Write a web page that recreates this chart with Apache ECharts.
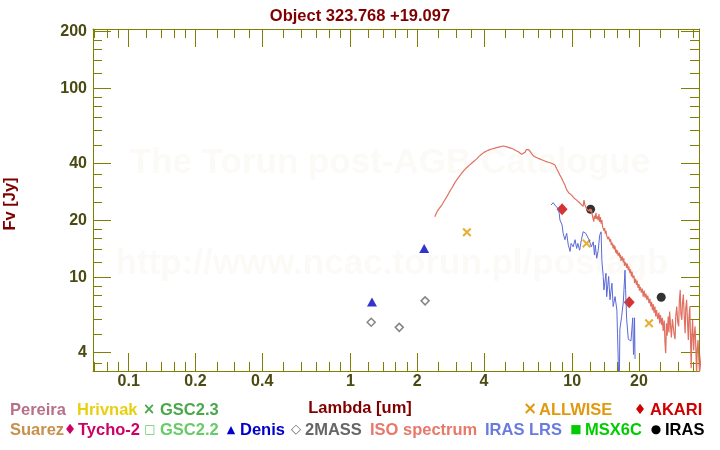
<!DOCTYPE html>
<html><head><meta charset="utf-8">
<script src="https://cdn.jsdelivr.net/npm/echarts@6/dist/echarts.min.js"></script>
<style>html,body{margin:0;padding:0;background:#fff}#c{width:720px;height:450px}</style>
</head><body><div id="c"></div>
<script>
const chartTitle = 'Object 323.768 +19.097';
const xName = 'Lambda [um]';
const yName = 'Fv [Jy]';
const xRange = [0.069, 37.3];
const yRange = [3.19, 206];
const xMajorTicks = [0.1, 0.2, 0.4, 1, 2, 4, 10, 20];
const xTickLabels = ['0.1', '0.2', '0.4', '1', '2', '4', '10', '20'];
const xMinorTicks = [0.07,0.08,0.09,0.12,0.14,0.16,0.18,0.25,0.3,0.35,0.5,0.6,0.7,0.8,0.9,1.2,1.4,1.6,1.8,2.5,3,3.5,5,6,7,8,9,12,14,16,18,25,30,35];
const yMajorTicks = [4, 10, 20, 40, 100, 200];
const yTickLabels = ['4', '10', '20', '40', '100', '200'];
const yMinorTicks = [3.5,5,6,7,8,9,12,14,16,18,25,30,35,50,60,70,80,90,120,140,160,180];

// ISO spectrum
const isoWave = [2.40,2.43,2.46,2.52,2.58,2.65,2.72,2.79,2.86,2.93,3.01,3.09,3.17,3.25,3.34,3.43,3.52,3.61,3.71,3.80,3.90,4.00,4.11,4.22,4.33,4.45,4.56,4.72,4.89,5.02,5.15,5.28,5.42,5.56,5.71,5.81,5.91,6.02,6.12,6.22,6.29,6.37,6.45,6.55,6.67,6.85,7.03,7.28,7.53,7.80,8.07,8.22,8.36,8.50,8.65,8.80,8.96,9.11,9.27,9.44,9.69,9.94,10.2,10.47,10.83,11.0,11.2,11.3,11.4,11.6,11.9,
  12.0,12.1,12.2,12.3,12.44,12.5,12.6,12.7,12.8,12.9,13.0,13.1,13.2,13.3,13.4,13.5,13.6,13.7,13.8,13.9,14.0,14.1,14.2,14.3,14.4,14.5,14.6,14.8,14.9,15.0,15.1,15.3,15.4,15.5,15.6,15.7,15.8,15.9,16.0,16.1,16.3,16.4,16.5,16.6,16.8,17.0,17.1,17.2,17.4,17.6,17.7,17.9,18.0,18.2,18.3,18.5,18.6,18.8,19.0,19.1,19.3,19.5,19.6,19.8,20.0,20.1,20.3,20.5,20.7,20.9,21.1,21.3,21.5,21.7,21.9,22.2,22.4,22.6,22.8,23.0,23.2,23.4,23.6,23.8,24.0,24.3,24.6,24.8,25.0,25.3,25.5,25.7,
  26.0,26.2,26.4,26.6,26.8,27.1,27.3,27.5,27.8,28.0,28.3,28.6,28.8,29.1,29.3,29.6,29.9,30.2,30.4,30.7,30.9,31.2,31.4,31.7,32.0,32.3,32.5,32.8,33.1,33.4,33.6,33.9,34.1,34.4,34.6,34.9,35.1,35.3,35.5,35.8,36.1,36.4,36.6,36.9,37.2,37.5,38.5,40.0];
const isoFlux = [20.9,21.6,22.3,23.2,24.1,25.4,26.7,28.2,29.6,31.1,32.7,34.1,35.5,36.8,38.0,39.1,40.1,41.2,42.3,43.6,44.8,45.8,46.6,47.2,47.7,48.1,48.5,49.0,49.5,49.1,48.7,48.2,47.7,46.9,46.2,45.4,44.8,45.2,45.8,47.4,48.5,47.4,46.6,45.2,44.0,43.2,42.6,41.9,41.2,40.6,40.1,39.8,39.3,37.6,36.2,34.7,33.4,32.0,30.8,29.0,27.8,27.2,26.2,25.6,24.7,24.5,23.7,25.6,24.2,23.0,22.4,
  23.0,22.2,22.9,21.5,21.8,19.7,21.2,20.4,21.9,20.3,21.0,20.0,21.6,19.6,20.8,19.2,20.1,18.6,18.9,17.6,18.2,17.0,17.6,16.6,17.0,15.9,16.4,15.4,15.9,14.8,15.3,14.2,14.9,14.0,14.6,13.5,14.0,13.3,13.9,13.0,13.5,12.7,13.2,12.2,12.9,12.0,12.6,11.5,12.0,11.2,11.8,10.9,11.4,10.5,11.0,10.1,10.7,9.9,10.2,9.3,9.8,9.1,9.6,8.8,9.2,8.5,8.9,8.3,8.7,7.9,8.5,7.8,8.2,7.6,8.0,7.3,7.7,7.0,7.4,6.7,7.2,6.5,7.0,6.2,6.7,6.0,6.5,5.7,6.3,5.6,6.1,5.2,
  5.9,4.5,3.96,5.7,4.9,6.2,5.1,6.58,5.4,4.8,6.0,5.95,5.0,4.7,6.2,7.0,5.8,5.5,7.4,8.57,6.4,5.95,7.2,8.1,6.2,5.06,6.8,7.6,5.8,4.65,6.1,7.0,5.2,3.3,4.8,5.95,4.7,4.1,4.9,5.5,4.2,3.0,4.1,4.65,3.8,3.1,4.2,3.0];

// IRAS LRS spectrum
const lrsWave = [8.02,8.21,8.36,8.60,8.74,8.80,9.00,9.10,9.27,9.44,9.60,9.78,9.88,10.1,10.3,10.47,10.6,10.8,11.0,11.2,11.35,11.5,11.7,11.9,12.2,12.44,12.6,12.7,12.9,13.1,13.3,13.5,13.6,13.8,13.9,14.2,14.3,14.6,14.8,15.1,15.3,15.6,15.9,16.0,16.2,16.3,16.4,16.7,17.0,17.3,17.4,17.6,17.9,18.1,18.4,18.75,18.9,19.0,19.1,19.2];
const lrsFlux = [24.1,24.8,24.1,23.2,21.8,20.1,18.9,17.1,15.8,17.1,14.8,13.7,15.1,14.5,15.8,14.2,15.1,13.9,15.8,17.4,17.6,17.1,16.7,15.8,14.5,15.4,13.1,14.8,12.6,13.9,16.7,17.4,12.3,10.1,8.57,10.5,7.89,10.1,7.6,9.3,7.0,7.9,6.7,5.06,3.0,2.5,5.3,6.2,7.4,10.9,8.6,6.0,4.7,4.8,4.6,6.1,3.9,4.3,6.1,3.7];

// Photometry
const denisWave = [1.25, 2.15];
const denisFlux = [7.4, 14.2];
const twomassWave = [1.24, 1.66, 2.17];
const twomassFlux = [5.78, 5.43, 7.5];
const allwiseWave = [3.35, 11.6, 22.2];
const allwiseFlux = [17.3, 15.1, 5.71];
const akariWave = [9.0, 18.07];
const akariFlux = [22.9, 7.37];
const irasWave = [12.1, 25.2];
const irasFlux = [22.9, 7.84];

const zip = (a, b) => a.map((v, i) => [v, b[i]]);
const FONT = '"Liberation Sans", Arial, Helvetica, sans-serif';
const SYMFONT = '"DejaVu Sans", sans-serif';
const AXIS_COLOR = '#808000';
const LABEL_COLOR = '#4a4a12';
const TITLE_COLOR = '#800000';

function fmt(ticks, labels) {
  return v => {
    const i = ticks.findIndex(t => Math.abs(t - v) / t < 1e-6);
    return i >= 0 ? labels[i] : '';
  };
}

function xAx(pos, ticks, len, withLabel, withLine) {
  return {
    type: 'log', logBase: 10, position: pos, min: xRange[0], max: xRange[1],
    axisLine: { show: withLine, lineStyle: { color: AXIS_COLOR, width: 1 } },
    axisTick: { show: true, inside: true, length: len, customValues: ticks, lineStyle: { color: AXIS_COLOR, width: 1 } },
    axisLabel: withLabel ? { show: true, customValues: xMajorTicks, formatter: fmt(xMajorTicks, xTickLabels), color: LABEL_COLOR, fontWeight: 'bold', fontSize: 16, fontFamily: FONT, margin: 3 } : { show: false },
    splitLine: { show: false }, minorTick: { show: false }, minorSplitLine: { show: false }
  };
}
function yAx(pos, ticks, len, withLabel, withLine) {
  return {
    type: 'log', logBase: 10, position: pos, min: yRange[0], max: yRange[1],
    axisLine: { show: withLine, lineStyle: { color: AXIS_COLOR, width: 1 } },
    axisTick: { show: true, inside: true, length: len, customValues: ticks, lineStyle: { color: AXIS_COLOR, width: 1 } },
    axisLabel: withLabel ? { show: true, customValues: yMajorTicks, formatter: fmt(yMajorTicks, yTickLabels), color: LABEL_COLOR, fontWeight: 'bold', fontSize: 16, fontFamily: FONT, margin: 6 } : { show: false },
    splitLine: { show: false }, minorTick: { show: false }, minorSplitLine: { show: false }
  };
}

function txt(x, y, text, color, size, align, family, extra) {
  return Object.assign({
    type: 'text', x: x, y: y, z: 5,
    style: { text: text, fill: color, font: 'bold ' + size + 'px ' + (family || FONT),
      textAlign: align || 'left', align: align || 'left', textVerticalAlign: 'middle', verticalAlign: 'middle' }
  }, extra || {});
}

const legendTexts = [
  [10, 410, 'Pereira', '#b8708a'],
  [77, 410, 'Hrivnak', '#e8d010'],
  [160, 410, 'GSC2.3', '#4aa84a'],
  [539, 410, 'ALLWISE', '#e09a10'],
  [650, 410, 'AKARI', '#d00000'],
  [10, 430, 'Suarez', '#c8904a'],
  [78, 430, 'Tycho-2', '#cc0066'],
  [160, 430, 'GSC2.2', '#66cc66'],
  [240, 430, 'Denis', '#0000cc'],
  [305, 430, '2MASS', '#666666'],
  [370, 430, 'ISO spectrum', '#e8786a'],
  [485, 430, 'IRAS LRS', '#6a7be0'],
  [585, 430, 'MSX6C', '#00cc00'],
  [665, 430, 'IRAS', '#000000']
];
const legendSymbols = [
  [149, 410, '×', '#4aa84a', 15],
  [530, 410, '×', '#e09a10', 17],
  [640, 410, '♦', '#d00000', 14],
  [70, 430, '♦', '#cc0066', 14],
  [150, 430, '□', '#66cc66', 12],
  [231, 430, '▲', '#0000cc', 11],
  [296, 430, '◇', '#666666', 13],
  [576, 430, '■', '#00cc00', 12],
  [656, 430, '●', '#000000', 12]
];

const graphics = [
  { type: 'text', x: 390, y: 163, z: 0, style: { text: 'The Torun post-AGB Catalogue', fill: '#fbfaf6', font: 'bold 35px ' + FONT, textAlign: 'center', align: 'center', textVerticalAlign: 'middle', verticalAlign: 'middle' } },
  { type: 'text', x: 392, y: 264, z: 0, style: { text: 'http://www.ncac.torun.pl/postagb', fill: '#fbfaf6', font: 'bold 35px ' + FONT, textAlign: 'center', align: 'center', textVerticalAlign: 'middle', verticalAlign: 'middle' } },
  txt(360, 408, xName, TITLE_COLOR, 16.5, 'center'),
  txt(10, 204, yName, TITLE_COLOR, 16.5, 'center', null, { rotation: Math.PI / 2 })
].concat(legendTexts.map(it => txt(it[0], it[1], it[2], it[3], 16.5, 'left')))
 .concat(legendSymbols.map(it => txt(it[0], it[1], it[2], it[3], it[4], 'center', SYMFONT)));

const XMARK = 'path://M0,1.6L1.6,0L5,3.4L8.4,0L10,1.6L6.6,5L10,8.4L8.4,10L5,6.6L1.6,10L0,8.4L3.4,5Z';

const chart = echarts.init(document.getElementById('c'), null, { renderer: 'canvas' });
chart.setOption({
  animation: false,
  backgroundColor: '#ffffff',
  title: { text: chartTitle, left: 'center', top: 3, textStyle: { color: TITLE_COLOR, fontWeight: 'bold', fontSize: 16.5, fontFamily: FONT } },
  grid: { left: 93, right: 21, top: 29, bottom: 79, containLabel: false, outerBoundsMode: 'none' },
  xAxis: [
    xAx('bottom', xMajorTicks, 18, true, true),
    xAx('bottom', xMinorTicks, 9, false, false),
    xAx('top', xMajorTicks, 18, false, true),
    xAx('top', xMinorTicks, 9, false, false)
  ],
  yAxis: [
    yAx('left', yMajorTicks, 18, true, true),
    yAx('left', yMinorTicks, 9, false, false),
    yAx('right', yMajorTicks, 18, false, true),
    yAx('right', yMinorTicks, 9, false, false)
  ],
  graphic: { elements: graphics },
  series: [
    { name: 'ISO spectrum', type: 'line', data: zip(isoWave, isoFlux), showSymbol: false, symbol: 'none', clip: true,
      lineStyle: { color: '#e07060', width: 1.2 }, xAxisIndex: 0, yAxisIndex: 0 },
    { name: 'IRAS LRS', type: 'line', data: zip(lrsWave, lrsFlux), showSymbol: false, symbol: 'none', clip: true,
      lineStyle: { color: '#5a6ad8', width: 1 }, xAxisIndex: 0, yAxisIndex: 0 },
    { name: 'Denis', type: 'scatter', data: zip(denisWave, denisFlux), symbol: 'triangle', symbolSize: [10, 9],
      itemStyle: { color: '#0000c0' } },
    { name: '2MASS', type: 'scatter', data: zip(twomassWave, twomassFlux), symbol: 'diamond', symbolSize: [8, 8],
      itemStyle: { color: '#ffffff', borderColor: '#666666', borderWidth: 1.5 } },
    { name: 'ALLWISE', type: 'scatter', data: zip(allwiseWave, allwiseFlux), symbol: XMARK, symbolSize: 9,
      itemStyle: { color: '#e09a00' } },
    { name: 'AKARI', type: 'scatter', data: zip(akariWave, akariFlux), symbol: 'diamond', symbolSize: [11, 12],
      itemStyle: { color: '#cc0000' } },
    { name: 'IRAS', type: 'scatter', data: zip(irasWave, irasFlux), symbol: 'circle', symbolSize: 9,
      itemStyle: { color: '#000000' } }
  ]
});
</script></body></html>
